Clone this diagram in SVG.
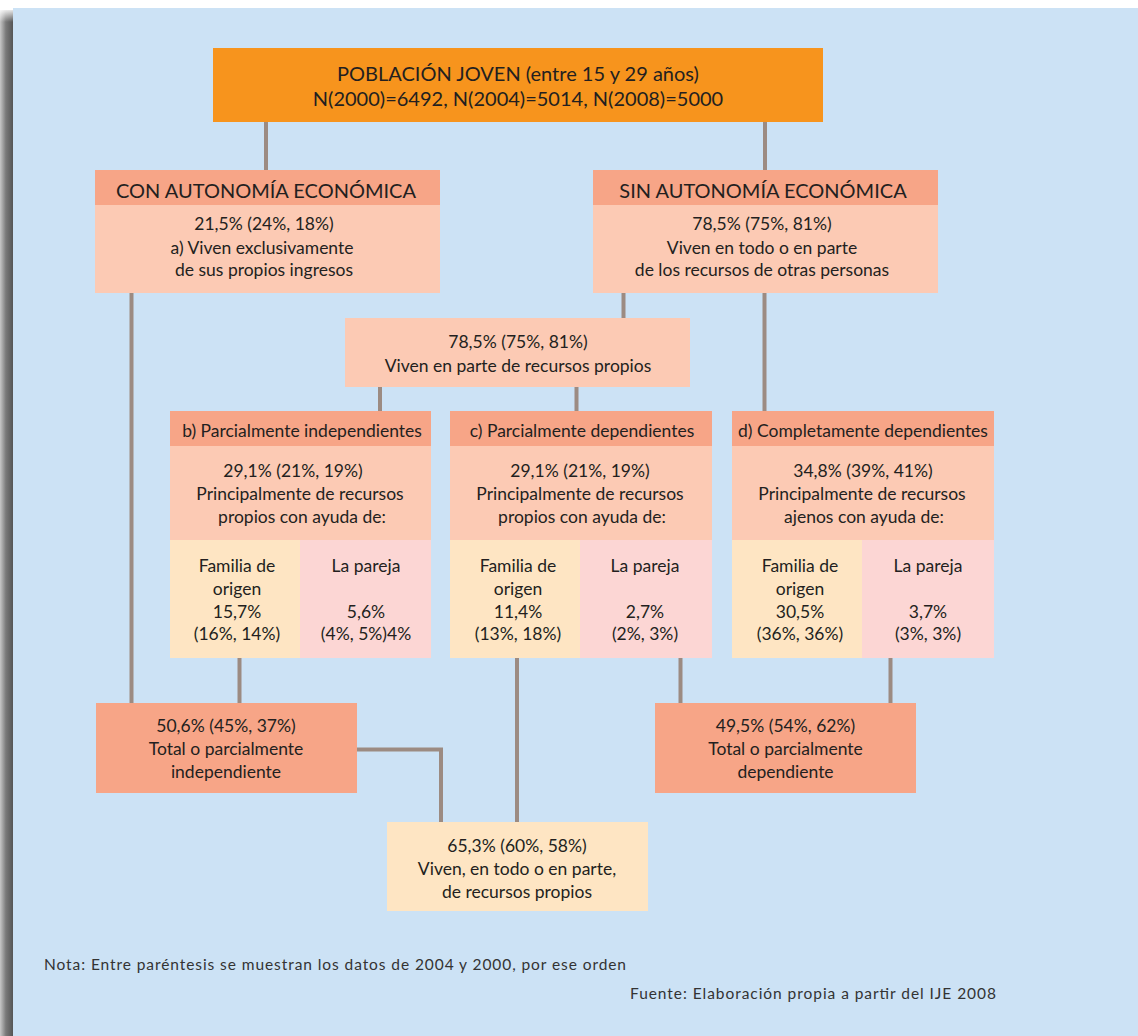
<svg xmlns="http://www.w3.org/2000/svg" width="1138" height="1036" viewBox="0 0 1138 1036">
<defs>
<linearGradient id="shadow" x1="0" y1="0" x2="1" y2="0">
<stop offset="0" stop-color="#c8c8c8"/>
<stop offset="0.45" stop-color="#7a7a7a"/>
<stop offset="1" stop-color="#555555"/>
</linearGradient>
<linearGradient id="shadowTop" x1="0" y1="0" x2="0" y2="1">
<stop offset="0" stop-color="#ffffff" stop-opacity="1"/>
<stop offset="1" stop-color="#ffffff" stop-opacity="0"/>
</linearGradient>
<style>
text{font-family:Lato,"Open Sans","Noto Sans",sans-serif;fill:#231f20;text-anchor:middle}
.h1{font-size:20px}
.h2{font-size:17.5px}
.b{font-size:17.5px}
.foot{font-size:15.5px;text-anchor:start;fill:#333333}
.orange{fill:#f7941d}
.head{fill:#f7a587}
.body{fill:#fccab4}
.fam{fill:#fee5c3}
.par{fill:#fcd6d4}
.conn line,.conn polyline{stroke:#9c8b82;stroke-width:4;fill:none}
</style>
</defs>
<rect x="0" y="0" width="1138" height="1036" fill="#ffffff"/>
<rect x="0" y="10" width="13" height="1026" fill="url(#shadow)"/>
<rect x="0" y="8" width="13" height="14" fill="url(#shadowTop)"/>
<rect x="13" y="8" width="1125" height="1028" fill="#cce2f5"/>

<g id="connectors" class="conn">
<line x1="266" y1="121" x2="266" y2="171"/>
<line x1="765" y1="121" x2="765" y2="171"/>
<line x1="131.5" y1="292" x2="131.5" y2="704"/>
<line x1="623.5" y1="292" x2="623.5" y2="319"/>
<line x1="764.5" y1="292" x2="764.5" y2="412"/>
<line x1="380" y1="386" x2="380" y2="412"/>
<line x1="576.5" y1="386" x2="576.5" y2="412"/>
<line x1="239.5" y1="657" x2="239.5" y2="704"/>
<polyline points="356,749.5 441,749.5 441,823"/>
<line x1="517" y1="657" x2="517" y2="823"/>
<line x1="680.5" y1="657" x2="680.5" y2="704"/>
<line x1="890.5" y1="657" x2="890.5" y2="704"/>
</g>

<g id="poblacion">
<rect class="orange" x="213" y="48" width="610" height="74"/>
<text class="h1" x="518" y="81">POBLACIÓN JOVEN (entre 15 y 29 años)</text>
<text class="h1" x="518" y="106">N(2000)=6492, N(2004)=5014, N(2008)=5000</text>
</g>

<g id="con-autonomia">
<rect class="head" x="95" y="170" width="345" height="35"/>
<rect class="body" x="95" y="205" width="345" height="88"/>
<text class="h1" x="266" y="198">CON AUTONOMÍA ECONÓMICA</text>
<text class="b" x="264" y="230">21,5% (24%, 18%)</text>
<text class="b" x="262" y="253.5">a) Viven exclusivamente</text>
<text class="b" x="264" y="276">de sus propios ingresos</text>
</g>

<g id="sin-autonomia">
<rect class="head" x="593" y="170" width="345" height="35"/>
<rect class="body" x="593" y="205" width="345" height="88"/>
<text class="h1" x="763" y="198">SIN AUTONOMÍA ECONÓMICA</text>
<text class="b" x="762" y="230">78,5% (75%, 81%)</text>
<text class="b" x="762" y="253.5">Viven en todo o en parte</text>
<text class="b" x="762" y="276">de los recursos de otras personas</text>
</g>

<g id="parte-propios">
<rect class="body" x="345" y="318" width="345" height="69"/>
<text class="b" x="518" y="348">78,5% (75%, 81%)</text>
<text class="b" x="518" y="371.5">Viven en parte de recursos propios</text>
</g>

<g id="b-independientes">
<rect class="head" x="170" y="411" width="261" height="35"/>
<rect class="body" x="170" y="446" width="261" height="94"/>
<rect class="fam" x="170" y="540" width="130" height="118"/>
<rect class="par" x="300" y="540" width="131" height="118"/>
<text class="h2" x="302" y="437">b) Parcialmente independientes</text>
<text class="b" x="293" y="477">29,1% (21%, 19%)</text>
<text class="b" x="300" y="500">Principalmente de recursos</text>
<text class="b" x="302" y="523">propios con ayuda de:</text>
<text class="b" x="237" y="572">Familia de</text>
<text class="b" x="237" y="595">origen</text>
<text class="b" x="237" y="618">15,7%</text>
<text class="b" x="237" y="640">(16%, 14%)</text>
<text class="b" x="366" y="572">La pareja</text>
<text class="b" x="366" y="618">5,6%</text>
<text class="b" x="366" y="640">(4%, 5%)4%</text>
</g>

<g id="c-dependientes">
<rect class="head" x="450" y="411" width="262" height="35"/>
<rect class="body" x="450" y="446" width="262" height="94"/>
<rect class="fam" x="450" y="540" width="130" height="118"/>
<rect class="par" x="580" y="540" width="132" height="118"/>
<text class="h2" x="582" y="437">c) Parcialmente dependientes</text>
<text class="b" x="580" y="477">29,1% (21%, 19%)</text>
<text class="b" x="580" y="500">Principalmente de recursos</text>
<text class="b" x="582" y="523">propios con ayuda de:</text>
<text class="b" x="518" y="572">Familia de</text>
<text class="b" x="518" y="595">origen</text>
<text class="b" x="518" y="618">11,4%</text>
<text class="b" x="518" y="640">(13%, 18%)</text>
<text class="b" x="645" y="572">La pareja</text>
<text class="b" x="645" y="618">2,7%</text>
<text class="b" x="645" y="640">(2%, 3%)</text>
</g>

<g id="d-completamente">
<rect class="head" x="732" y="411" width="262" height="35"/>
<rect class="body" x="732" y="446" width="262" height="94"/>
<rect class="fam" x="732" y="540" width="130" height="118"/>
<rect class="par" x="862" y="540" width="132" height="118"/>
<text class="h2" x="863" y="437">d) Completamente dependientes</text>
<text class="b" x="863" y="477">34,8% (39%, 41%)</text>
<text class="b" x="862" y="500">Principalmente de recursos</text>
<text class="b" x="864" y="523">ajenos con ayuda de:</text>
<text class="b" x="800" y="572">Familia de</text>
<text class="b" x="800" y="595">origen</text>
<text class="b" x="800" y="618">30,5%</text>
<text class="b" x="800" y="640">(36%, 36%)</text>
<text class="b" x="928" y="572">La pareja</text>
<text class="b" x="928" y="618">3,7%</text>
<text class="b" x="928" y="640">(3%, 3%)</text>
</g>

<g id="total-independiente">
<rect class="head" x="96" y="703" width="261" height="90"/>
<text class="b" x="226" y="732">50,6% (45%, 37%)</text>
<text class="b" x="226" y="755">Total o parcialmente</text>
<text class="b" x="226" y="778">independiente</text>
</g>

<g id="total-dependiente">
<rect class="head" x="655" y="703" width="261" height="90"/>
<text class="b" x="785.5" y="732">49,5% (54%, 62%)</text>
<text class="b" x="785.5" y="755">Total o parcialmente</text>
<text class="b" x="785.5" y="778">dependiente</text>
</g>

<g id="recursos-propios">
<rect class="fam" x="387" y="822" width="261" height="89"/>
<text class="b" x="517" y="852">65,3% (60%, 58%)</text>
<text class="b" x="517" y="875">Viven, en todo o en parte,</text>
<text class="b" x="517" y="897.5">de recursos propios</text>
</g>

<g id="notes">
<text class="foot" x="44" y="970" textLength="582">Nota: Entre paréntesis se muestran los datos de 2004 y 2000, por ese orden</text>
<text class="foot" x="630" y="999" textLength="366">Fuente: Elaboración propia a partir del IJE 2008</text>
</g>
</svg>
